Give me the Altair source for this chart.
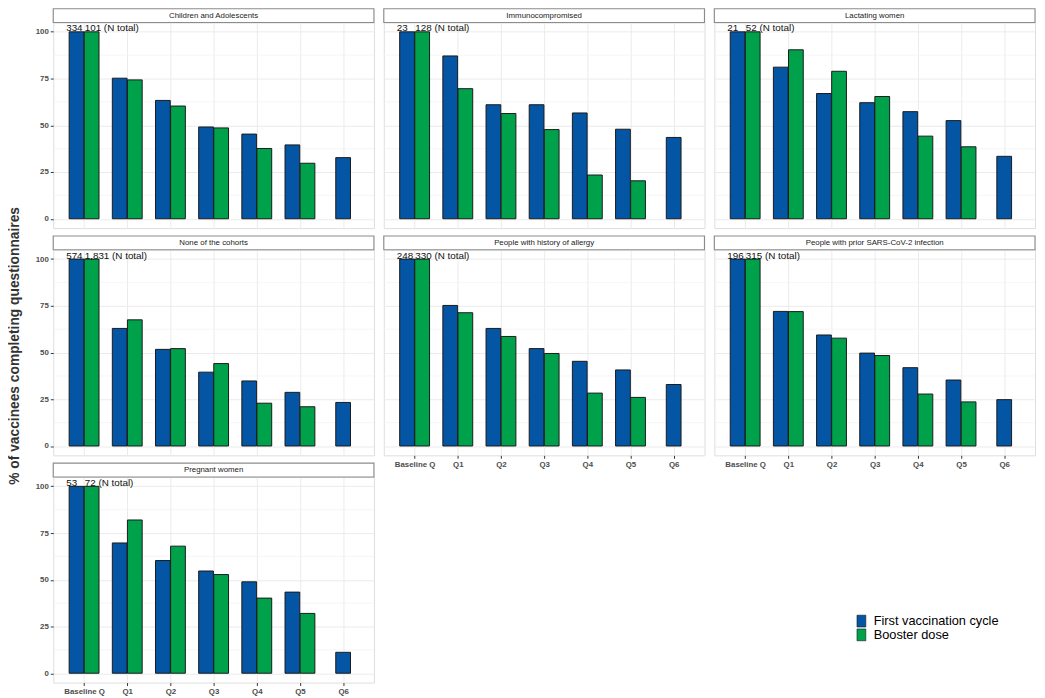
import altair as alt
import pandas as pd

questions = ["Baseline Q", "Q1", "Q2", "Q3", "Q4", "Q5", "Q6"]
series_names = ["First vaccination cycle", "Booster dose"]
series_colors = ["#0455a4", "#00a14b"]

cohorts = [
    "Children and Adolescents",
    "Immunocompromised",
    "Lactating women",
    "None of the cohorts",
    "People with history of allergy",
    "People with prior SARS-CoV-2 infection",
    "Pregnant women",
]

first_cycle = {
    "Children and Adolescents": [100, 75.2, 63.3, 49.1, 45.3, 39.5, 32.7],
    "Immunocompromised": [100, 87.1, 61.0, 61.0, 56.6, 47.9, 43.5],
    "Lactating women": [100, 81.1, 67.0, 62.1, 57.3, 52.5, 33.4],
    "None of the cohorts": [100, 62.9, 51.7, 39.5, 34.8, 28.7, 23.3],
    "People with history of allergy": [100, 75.2, 62.9, 52.1, 45.3, 40.7, 32.9],
    "People with prior SARS-CoV-2 infection": [100, 72.0, 59.4, 49.7, 41.9, 35.3, 24.8],
    "Pregnant women": [100, 69.7, 60.3, 54.7, 48.9, 43.4, 11.2],
}

booster = {
    "Children and Adolescents": [100, 74.3, 60.3, 48.6, 37.6, 29.7],
    "Immunocompromised": [100, 69.6, 56.3, 47.7, 23.4, 20.3],
    "Lactating women": [100, 90.4, 78.9, 65.4, 44.2, 38.5],
    "None of the cohorts": [100, 67.5, 52.1, 44.1, 22.9, 21.0],
    "People with history of allergy": [100, 71.3, 58.6, 49.5, 28.3, 26.0],
    "People with prior SARS-CoV-2 infection": [100, 71.9, 57.7, 48.4, 27.8, 23.6],
    "Pregnant women": [100, 82.0, 68.0, 52.8, 40.2, 32.0],
}

n_first = {
    "Children and Adolescents": "334",
    "Immunocompromised": "23",
    "Lactating women": "21",
    "None of the cohorts": "574",
    "People with history of allergy": "248",
    "People with prior SARS-CoV-2 infection": "196",
    "Pregnant women": "53",
}
n_booster = {
    "Children and Adolescents": "101 (N total)",
    "Immunocompromised": "128 (N total)",
    "Lactating women": "52  (N total)",
    "None of the cohorts": "1,831  (N total)",
    "People with history of allergy": "330  (N total)",
    "People with prior SARS-CoV-2 infection": "315  (N total)",
    "Pregnant women": "72  (N total)",
}

y_major = [0, 25, 50, 75, 100]
y_minor = [12.5, 37.5, 62.5, 87.5]

rows = []
for c in cohorts:
    for i, v in enumerate(first_cycle[c]):
        rows.append({"cohort": c, "q_idx": i, "series": series_names[0], "value": v,
                     "nlabel": n_first[c] if i == 0 else ""})
    for i, v in enumerate(booster[c]):
        rows.append({"cohort": c, "q_idx": i, "series": series_names[1], "value": v,
                     "nlabel": n_booster[c] if i == 0 else ""})
df = pd.DataFrame(rows)

W = 326
H = 209
STRIP = 14
AXIS_FONT = "Liberation Sans"

label_expr = "[" + ",".join("'" + q + "'" for q in questions) + "][datum.value]"

pos_expr = ("datum.q_idx + (datum.n > 1 ? (datum.series == '" + series_names[0] +
            "' ? -0.175 : 0.175) : 0)")


def panel(name, show_x, show_y):
    sub = df[df.cohort == name]
    xaxis = alt.Axis(values=list(range(len(questions))), labelExpr=label_expr,
                     labels=show_x, ticks=show_x, domain=False, grid=True,
                     gridColor="#ebebeb", gridWidth=1, tickSize=3, tickColor="#333333",
                     labelFontSize=8, labelFontWeight="bold", labelColor="#4d4d4d",
                     labelFont=AXIS_FONT, labelPadding=2, title=None)
    yaxis = alt.Axis(values=y_major, labels=show_y, ticks=show_y, domain=False, grid=True,
                     gridColor="#ebebeb", gridWidth=1, tickSize=3, tickColor="#333333",
                     labelFontSize=8, labelFontWeight="bold", labelColor="#4d4d4d",
                     labelFont=AXIS_FONT, labelPadding=2, title=None)
    xs = alt.Scale(domain=[-0.6, 6.6], nice=False, zero=False)
    ys = alt.Scale(domain=[-5, 105], nice=False, zero=False)

    minor = alt.Chart(pd.DataFrame({"value": y_minor})).mark_rule(
        color="#f2f2f2", strokeWidth=0.7
    ).encode(y=alt.Y("value:Q", scale=ys, axis=yaxis))

    base = alt.Chart(sub).transform_joinaggregate(
        n="count()", groupby=["q_idx"]
    ).transform_calculate(pos=pos_expr)

    bars = base.mark_bar(orient="vertical", size=15, stroke="#1a1a1a", strokeWidth=1).encode(
        x=alt.X("pos:Q", scale=xs, axis=xaxis),
        y=alt.Y("value:Q", scale=ys, axis=yaxis),
        y2=alt.datum(0),
        color=alt.Color("series:N", scale=alt.Scale(domain=series_names, range=series_colors),
                        legend=alt.Legend(title=None, orient="none", legendX=815, legendY=602,
                                          symbolType="M-0.75,-1H0.75V1H-0.75Z", symbolSize=144,
                                          symbolStrokeColor="#1a1a1a", symbolStrokeWidth=0.6,
                                          labelFontSize=13, labelFont=AXIS_FONT,
                                          labelColor="#000000", rowPadding=-4, labelOffset=6,
                                          padding=0)),
        order=alt.Order("series:N", sort="descending"),
    )

    def note(series, dx):
        return base.transform_filter(
            "datum.q_idx == 0 && datum.series == '" + series + "'"
        ).mark_text(
            align="left", baseline="alphabetic", dx=dx, dy=-0.5, font=AXIS_FONT, fontSize=10,
            color="#111111"
        ).encode(
            x=alt.X("pos:Q", scale=xs, axis=xaxis),
            y=alt.Y("value:Q", scale=ys, axis=yaxis),
            text="nlabel:N",
        )

    strip_df = pd.DataFrame({"label": [name]})
    strip_box = alt.Chart(strip_df).mark_rect(
        fill="white", stroke="#8c8c8c", strokeWidth=1.2
    ).encode(x=alt.value(0), x2=alt.value(W), y=alt.value(-STRIP), y2=alt.value(0))
    strip_text = alt.Chart(strip_df).mark_text(
        fontSize=8, font=AXIS_FONT, color="#222222", baseline="middle"
    ).encode(x=alt.value(W / 2), y=alt.value(-STRIP / 2), text="label:N")

    return alt.layer(minor, bars, note(series_names[0], -10.5), note(series_names[1], -7),
                     strip_box, strip_text).properties(width=W, height=H)


col1 = alt.vconcat(
    panel(cohorts[0], False, True),
    panel(cohorts[3], False, True),
    panel(cohorts[6], True, True),
    spacing=5,
)
col2 = alt.vconcat(
    panel(cohorts[1], False, False),
    panel(cohorts[4], True, False),
    spacing=5,
)
col3 = alt.vconcat(
    panel(cohorts[2], False, False),
    panel(cohorts[5], True, False),
    spacing=5,
)

chart = alt.hconcat(col1, col2, col3, spacing=6).properties(
    padding={"left": 0, "top": -7, "right": 0, "bottom": 0},
    autosize=alt.AutoSizeParams(type="pad"),
    title=alt.TitleParams(
        "% of vaccinees completing questionnaires", orient="left", anchor="middle",
        fontSize=14, fontWeight="bold", font=AXIS_FONT, color="#333333", offset=13, dx=6,
    ),
).resolve_scale(color="shared").resolve_legend(color="shared").configure_view(
    stroke="#8c8c8c", strokeWidth=1.2
).configure(background="white")

chart.save("out.html", embed_options={"renderer": "svg", "actions": False})
